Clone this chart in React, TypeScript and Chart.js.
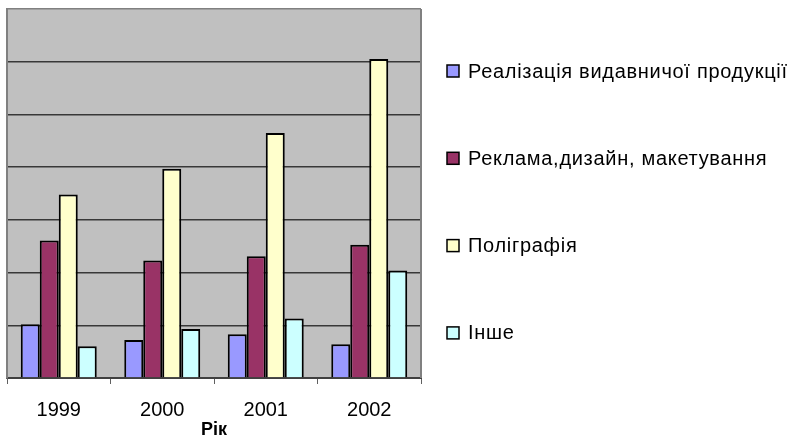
import React, { useEffect, useRef } from "react";
import { Chart, registerables } from "chart.js";

Chart.register(...registerables);

const years = ["1999", "2000", "2001", "2002"];
const seriesNames = [
  "Реалізація видавничої продукції",
  "Реклама,дизайн, макетування",
  "Поліграфія",
  "Інше",
];
const publishing = [1.02, 0.72, 0.83, 0.64];
const advertising = [2.61, 2.23, 2.31, 2.53];
const printing = [3.48, 3.97, 4.65, 6.05];
const other = [0.6, 0.93, 1.13, 2.04];
const seriesColors = ["#9999FF", "#993366", "#FFFFCC", "#CCFFFF"];
const yMax = 7;
const xTitle = "Рік";

const FONT = "'Liberation Sans', Arial, sans-serif";

const plotBackground = {
  id: "plotBackground",
  beforeDraw(chart: any) {
    const { ctx, chartArea: a } = chart;
    ctx.save();
    ctx.fillStyle = "#C0C0C0";
    ctx.fillRect(a.left, a.top, a.right - a.left, a.bottom - a.top);
    ctx.restore();
  },
  afterDatasetsDraw(chart: any) {
    const { ctx, chartArea: a } = chart;
    ctx.save();
    ctx.strokeStyle = "#808080";
    ctx.lineWidth = 2;
    ctx.beginPath();
    ctx.moveTo(a.right, a.top);
    ctx.lineTo(a.right, a.bottom);
    ctx.stroke();
    ctx.restore();
  },
};

const sideLegend = {
  id: "sideLegend",
  afterDraw(chart: any) {
    const ctx = chart.ctx;
    const boxX = 447;
    const firstY = 71;
    const step = 87.3;
    const box = 12;
    ctx.save();
    ctx.font = `20px ${FONT}`;
    ctx.textBaseline = "middle";
    ctx.textAlign = "left";
    (ctx as any).letterSpacing = "0.7px";
    chart.data.datasets.forEach((ds: any, i: number) => {
      const cy = firstY + i * step;
      ctx.fillStyle = ds.backgroundColor;
      ctx.fillRect(boxX, cy - box / 2, box, box);
      ctx.strokeStyle = "#000";
      ctx.lineWidth = 1.5;
      ctx.strokeRect(boxX, cy - box / 2, box, box);
      ctx.fillStyle = "#000";
      ctx.fillText(ds.label, boxX + box + 9, cy + 1);
    });
    ctx.restore();
  },
};

export default function App() {
  const ref = useRef<HTMLCanvasElement | null>(null);

  useEffect(() => {
    if (!ref.current) return;
    const values = [publishing, advertising, printing, other];
    const chart = new Chart(ref.current, {
      type: "bar",
      data: {
        labels: years,
        datasets: values.map((v, i) => ({
          label: seriesNames[i],
          data: v,
          backgroundColor: seriesColors[i],
          borderColor: "#000000",
          borderWidth: 2,
          categoryPercentage: 0.734,
          barPercentage: 1.0,
        })),
      },
      options: {
        responsive: false,
        animation: false,
        devicePixelRatio: 1,
        layout: { padding: { left: 7, top: 9, right: 371, bottom: 0 } },
        plugins: {
          legend: { display: false },
          tooltip: { enabled: false },
        },
        scales: {
          x: {
            offset: true,
            grid: {
              display: true,
              drawOnChartArea: false,
              drawTicks: true,
              tickLength: 6,
              color: "#606060",
              offset: true,
            },
            border: { display: true, color: "#404040", width: 2 },
            ticks: {
              color: "#000",
              padding: 16,
              font: { family: FONT, size: 20, lineHeight: 1.0 },
            },
            title: {
              display: true,
              text: xTitle,
              color: "#000",
              font: { family: FONT, size: 18, weight: "bold", lineHeight: 1.0 },
              padding: { top: -15, bottom: 6 },
            },
          },
          y: {
            min: 0,
            max: yMax,
            ticks: { display: false, stepSize: 1 },
            grid: {
              drawTicks: false,
              tickLength: 0,
              lineWidth: 1.5,
              color: (c: any) => (c.tick && c.tick.value === yMax ? "#808080" : "#383838"),
            },
            border: { display: true, color: "#808080", width: 2 },
          },
        },
      },
      plugins: [plotBackground, sideLegend],
    });
    return () => chart.destroy();
  }, []);

  return (
    <div style={{ position: "absolute", left: 0, top: 0, width: 792, height: 445, background: "#fff" }}>
      <canvas ref={ref} width={792} height={445} />
    </div>
  );
}
